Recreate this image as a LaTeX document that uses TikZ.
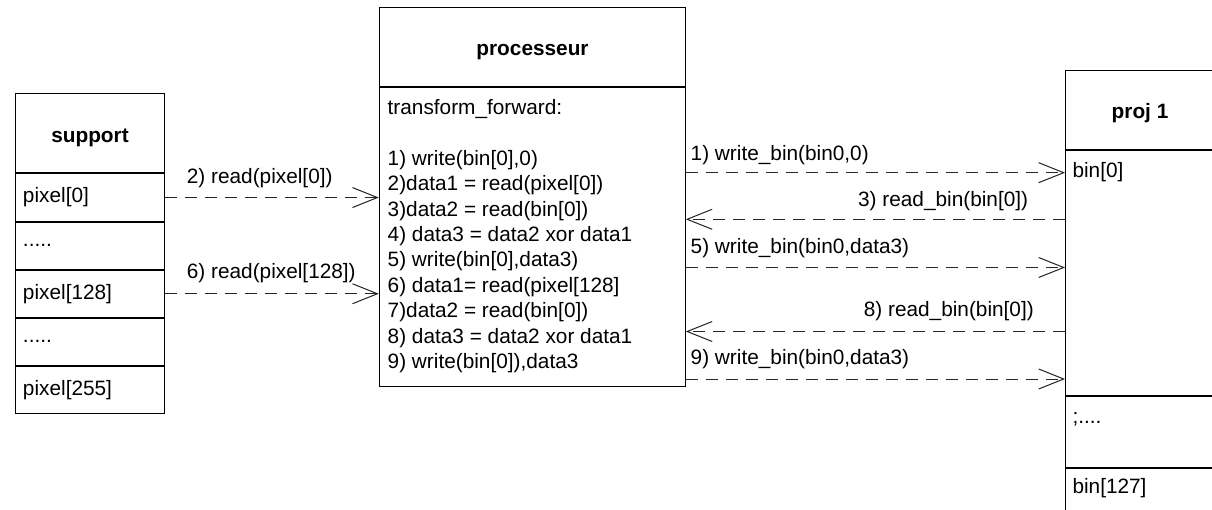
\documentclass[tikz,border=0pt]{standalone}
\usepackage{fontspec}
\setmainfont{Liberation Sans}
\usetikzlibrary{arrows.meta}
\tikzset{
  txt/.style={font=\fontsize{20.8}{25.4}\selectfont},
  box/.style={draw=black, line width=1pt, rectangle, inner sep=0pt, txt},
  rowbox/.style={box, minimum height=47.1pt, text width=133pt, inner xsep=8pt, align=left},
  lbl/.style={inner sep=0pt, txt},
  title/.style={inner sep=0pt, anchor=base, font=\fontsize{20.8}{25.4}\selectfont\bfseries},
  msg/.style={draw=black!85, line width=1pt, dash pattern=on 12pt off 8pt,
              -{Straight Barb[length=25pt,width=20pt]}},
}
\begin{document}
\begin{tikzpicture}[x=1pt,y=-1pt]
\useasboundingbox (0,0) rectangle (1212,510);
\clip (0,0) rectangle (1212,510);

% support: header and memory rows
\node[box, minimum width=149pt, minimum height=79pt] (suphead) at (89.5,133.5) {};
\node[title] (suptitle) at (90,142.7) {support};
\node[rowbox, anchor=north] (s0) at (suphead.south) {pixel[0]};
\node[rowbox, anchor=north] (s1) at (s0.south) {.....};
\node[rowbox, anchor=north] (s2) at (s1.south) {pixel[128]};
\node[rowbox, anchor=north] (s3) at (s2.south) {.....};
\node[rowbox, anchor=north] (s4) at (s3.south) {pixel[255]};

% processeur: header and operation list
\node[box, minimum width=306pt, minimum height=79.4pt] (prochead) at (532.3,47) {};
\node[title] (proctitle) at (532.5,56) {processeur};
\node[box, anchor=north, minimum width=306pt, minimum height=298.3pt] (procbody) at (prochead.south) {};
\node[lbl, anchor=north west, align=left] (ops) at (387.5,99.2) {transform\_forward:\\[25.4pt]
1) write(bin[0],0)\\
2)data1 = read(pixel[0])\\
3)data2 = read(bin[0])\\
4) data3 = data2 xor data1\\
5) write(bin[0],data3)\\
6) data1= read(pixel[128]\\
7)data2 = read(bin[0])\\
8) data3 = data2 xor data1\\
9) write(bin[0]),data3};

% proj 1: header and bins
\node[box, anchor=north west, minimum width=200pt, minimum height=78.9pt] (projhead) at (1065,70.4) {};
\node[title] (projtitle) at (1140,118.3) {proj 1};
\node[box, anchor=north, minimum width=200pt, minimum height=245pt] (projbody) at (projhead.south) {};
\node[box, anchor=north, minimum width=200pt, minimum height=71pt] (projdots) at (projbody.south) {};
\node[box, anchor=north, minimum width=200pt, minimum height=71pt] (projlast) at (projdots.south) {};
\node[lbl, anchor=west] (b0) at (1072.3,171.7) {bin[0]};
\node[lbl, anchor=west] (bdots) at (1072.3,419) {;....};
\node[lbl, anchor=west] (b127) at (1072.3,488) {bin[127]};

% reads from support
\draw[msg] (s0.east) -- (s0.east -| procbody.west);
\draw[msg] (s2.east) -- (s2.east -| procbody.west);
\node[lbl, anchor=west] (l2) at (186.7,178.3) {2) read(pixel[0])};
\node[lbl, anchor=west] (l6) at (186.7,273) {6) read(pixel[128])};

% exchanges with proj 1
\coordinate (y1) at (0,172.7);
\coordinate (y3) at (0,219.3);
\coordinate (y5) at (0,267.5);
\coordinate (y8) at (0,331.5);
\coordinate (y9) at (0,379);
\draw[msg] (procbody.east |- y1) -- (projbody.west |- y1);
\draw[msg] (projbody.west |- y3) -- (procbody.east |- y3);
\draw[msg] (procbody.east |- y5) -- (projbody.west |- y5);
\draw[msg] (projbody.west |- y8) -- (procbody.east |- y8);
\draw[msg] (procbody.east |- y9) -- (projbody.west |- y9);
\node[lbl, anchor=west] (l1) at (690.5,155) {1) write\_bin(bin0,0)};
\node[lbl, anchor=east] (l3) at (1028.3,200.8) {3) read\_bin(bin[0])};
\node[lbl, anchor=west] (l5) at (690.5,248.5) {5) write\_bin(bin0,data3)};
\node[lbl, anchor=east] (l8) at (1034,311.5) {8) read\_bin(bin[0])};
\node[lbl, anchor=west] (l9) at (690.5,359) {9) write\_bin(bin0,data3)};
\end{tikzpicture}
\end{document}
